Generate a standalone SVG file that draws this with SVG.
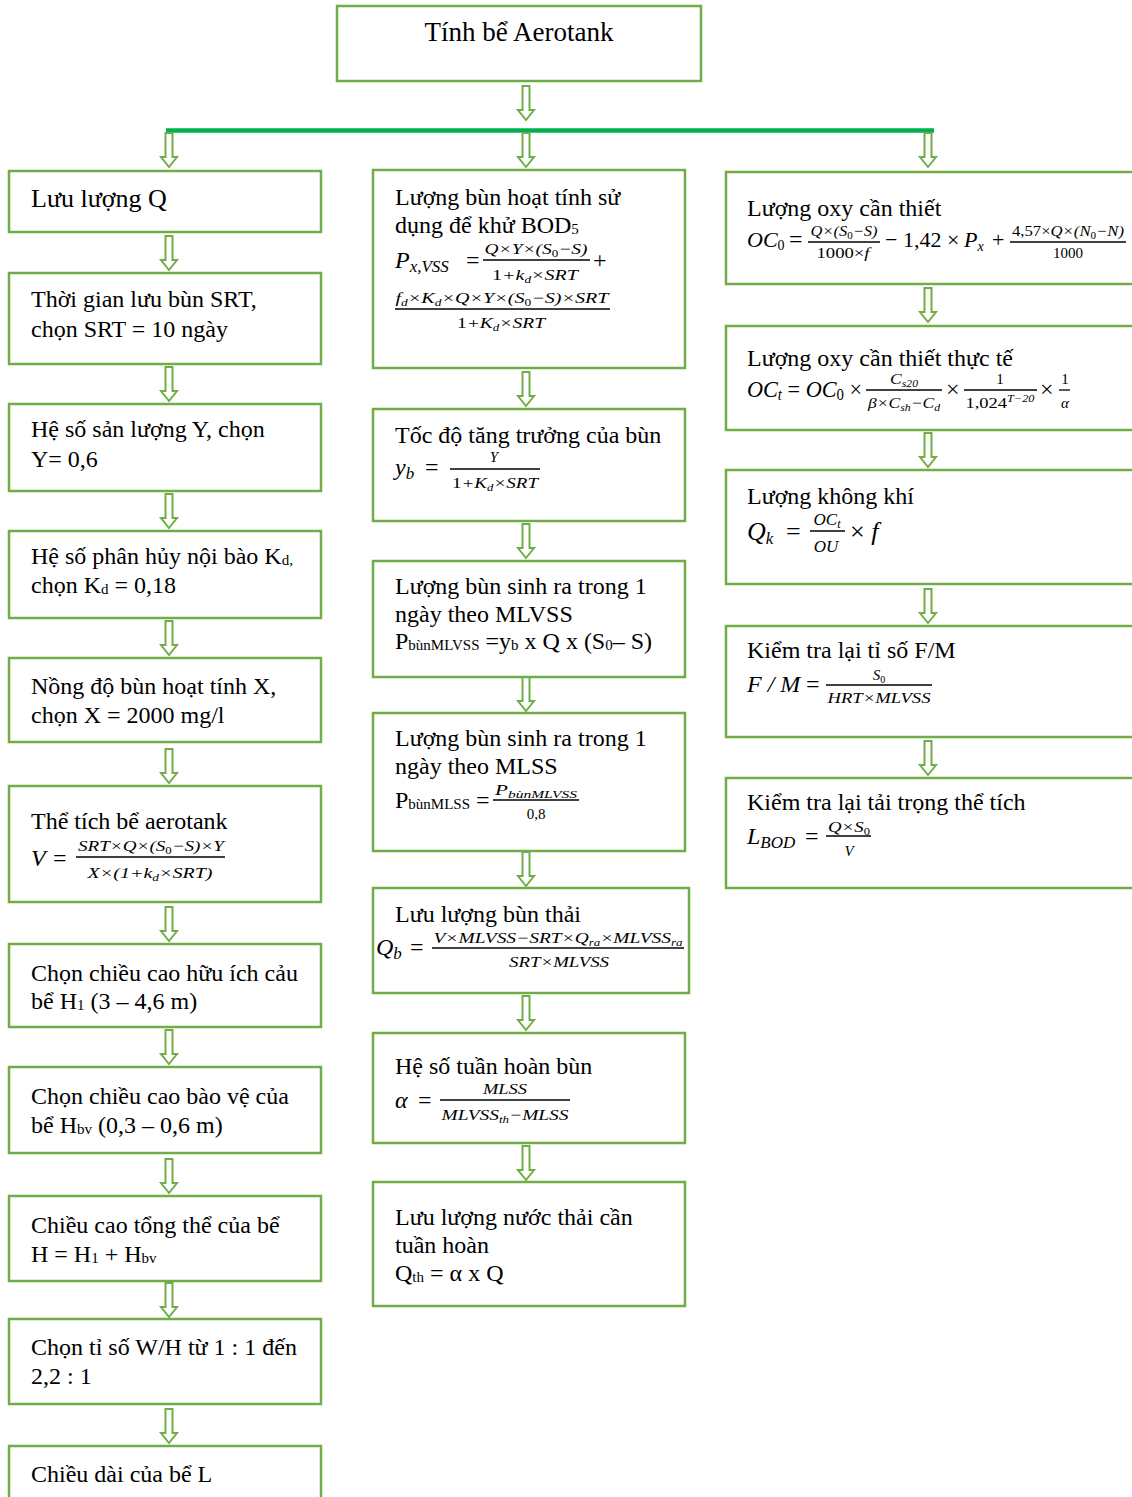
<svg xmlns="http://www.w3.org/2000/svg" xmlns:xlink="http://www.w3.org/1999/xlink" width="1132" height="1497" viewBox="0 0 1132 1497">
<style>
.box{fill:#fff;stroke:#70AD47;stroke-width:2.5}
.arr{fill:#fff;stroke:#70AD47;stroke-width:2}
.t{font-family:"Liberation Serif","Times New Roman",serif;font-size:24px;fill:#000}
.m{font-family:"Liberation Serif","Times New Roman",serif;font-style:italic;font-size:24px;fill:#000}
.f{font-family:"Liberation Serif","Times New Roman",serif;font-style:italic;font-size:15px;fill:#000}
.up{font-style:normal}
.fb{stroke:#000;stroke-width:1.3}
</style>
<defs>
<path id="arr" class="arr" d="M-3.5,0 H3.5 V24 H8 L0,34 L-8,24 H-3.5 Z"/>
</defs>
<rect width="1132" height="1497" fill="#fff"/>

<g id="connectors">
<use xlink:href="#arr" x="526" y="86"/>
<line x1="166" y1="130.5" x2="934" y2="130.5" stroke="#00B050" stroke-width="4.5"/>
<use xlink:href="#arr" x="169" y="133"/>
<use xlink:href="#arr" x="526" y="133"/>
<use xlink:href="#arr" x="928" y="133"/>
<use xlink:href="#arr" x="169" y="236"/>
<use xlink:href="#arr" x="169" y="367"/>
<use xlink:href="#arr" x="169" y="494"/>
<use xlink:href="#arr" x="169" y="621"/>
<use xlink:href="#arr" x="169" y="749"/>
<use xlink:href="#arr" x="169" y="907"/>
<use xlink:href="#arr" x="169" y="1030"/>
<use xlink:href="#arr" x="169" y="1159"/>
<use xlink:href="#arr" x="169" y="1283"/>
<use xlink:href="#arr" x="169" y="1409"/>
<use xlink:href="#arr" x="526" y="372"/>
<use xlink:href="#arr" x="526" y="524"/>
<use xlink:href="#arr" x="526" y="677"/>
<use xlink:href="#arr" x="526" y="852"/>
<use xlink:href="#arr" x="526" y="996"/>
<use xlink:href="#arr" x="526" y="1146"/>
<use xlink:href="#arr" x="928" y="288"/>
<use xlink:href="#arr" x="928" y="433"/>
<use xlink:href="#arr" x="928" y="589"/>
<use xlink:href="#arr" x="928" y="741"/>
</g>

<g id="top">
<rect class="box" x="337" y="6" width="364" height="75"/>
<text class="t" x="519" y="41" text-anchor="middle" style="font-size:27px">Tính bể Aerotank</text>
</g>

<!-- Left column -->
<g id="L1">
<rect class="box" x="9" y="171" width="312" height="61"/>
<text class="t" x="31" y="207" style="font-size:26px">Lưu lượng Q</text>
</g>
<g id="L2">
<rect class="box" x="9" y="273" width="312" height="91"/>
<text class="t" x="31" y="307">Thời gian lưu bùn SRT,</text>
<text class="t" x="31" y="337">chọn SRT = 10 ngày</text>
</g>
<g id="L3">
<rect class="box" x="9" y="404" width="312" height="87"/>
<text class="t" x="31" y="437">Hệ số sản lượng Y, chọn</text>
<text class="t" x="31" y="467">Y= 0,6</text>
</g>
<g id="L4">
<rect class="box" x="9" y="531" width="312" height="87"/>
<text class="t" x="31" y="564">Hệ số phân hủy nội bào K<tspan font-size="15" dy="1">d,</tspan></text>
<text class="t" x="31" y="593">chọn K<tspan font-size="15" dy="1">d</tspan><tspan dy="-1"> =  0,18</tspan></text>
</g>
<g id="L5">
<rect class="box" x="9" y="658" width="312" height="84"/>
<text class="t" x="31" y="694">Nồng độ bùn hoạt tính X,</text>
<text class="t" x="31" y="723">chọn X = 2000 mg/l</text>
</g>
<g id="L6">
<rect class="box" x="9" y="786" width="312" height="116"/>
<text class="t" x="31" y="829">Thể tích bể aerotank</text>
<text class="m" x="31" y="866">V</text>
<text class="t" x="53" y="866">=</text>
<line class="fb" x1="76" y1="857" x2="225" y2="857"/>
<text class="f" x="151" y="851" text-anchor="middle" textLength="146" lengthAdjust="spacingAndGlyphs">SRT×Q×(S<tspan font-size="10" dy="3" class="up">0</tspan><tspan dy="-3">−S)×Y</tspan></text>
<text class="f" x="150" y="878" text-anchor="middle" textLength="125" lengthAdjust="spacingAndGlyphs">X×(1+k<tspan font-size="10" dy="3">d</tspan><tspan dy="-3">×SRT)</tspan></text>
</g>
<g id="L7">
<rect class="box" x="9" y="944" width="312" height="83"/>
<text class="t" x="31" y="981">Chọn chiều cao hữu ích cảu</text>
<text class="t" x="31" y="1009">bể H<tspan font-size="15" dy="1">1</tspan><tspan dy="-1"> (3 – 4,6 m)</tspan></text>
</g>
<g id="L8">
<rect class="box" x="9" y="1067" width="312" height="86"/>
<text class="t" x="31" y="1104">Chọn chiều cao bào vệ của</text>
<text class="t" x="31" y="1133">bể H<tspan font-size="15" dy="1">bv</tspan><tspan dy="-1"> (0,3 – 0,6 m)</tspan></text>
</g>
<g id="L9">
<rect class="box" x="9" y="1196" width="312" height="85"/>
<text class="t" x="31" y="1233">Chiều cao tổng thể của bể</text>
<text class="t" x="31" y="1262">H = H<tspan font-size="15" dy="1">1</tspan><tspan dy="-1"> + H</tspan><tspan font-size="15" dy="1">bv</tspan></text>
</g>
<g id="L10">
<rect class="box" x="9" y="1319" width="312" height="85"/>
<text class="t" x="31" y="1355">Chọn tỉ số W/H từ 1 : 1 đến</text>
<text class="t" x="31" y="1384">2,2 : 1</text>
</g>
<g id="L11">
<rect class="box" x="9" y="1446" width="312" height="70"/>
<text class="t" x="31" y="1482">Chiều dài của bể L</text>
</g>

<!-- Middle column -->
<g id="M1">
<rect class="box" x="373" y="170" width="312" height="198"/>
<text class="t" x="395" y="205">Lượng bùn hoạt tính sử</text>
<text class="t" x="395" y="233">dụng để khử BOD<tspan font-size="15" dy="1">5</tspan></text>
<text class="m" x="395" y="268">P<tspan font-size="17" dy="4">x,VSS</tspan></text>
<text class="t" x="466" y="268">=</text>
<line class="fb" x1="483" y1="260" x2="590" y2="260"/>
<text class="f" x="536" y="254" text-anchor="middle" textLength="103" lengthAdjust="spacingAndGlyphs">Q×Y×(S<tspan font-size="10" dy="3" class="up">0</tspan><tspan dy="-3">−S)</tspan></text>
<text class="f" x="535" y="280" text-anchor="middle" textLength="86" lengthAdjust="spacingAndGlyphs"><tspan class="up">1</tspan>+k<tspan font-size="10" dy="3">d</tspan><tspan dy="-3">×SRT</tspan></text>
<text class="t" x="593" y="268">+</text>
<line class="fb" x1="395" y1="309" x2="610" y2="309"/>
<text class="f" x="502" y="303" text-anchor="middle" textLength="213" lengthAdjust="spacingAndGlyphs">f<tspan font-size="10" dy="3">d</tspan><tspan dy="-3">×K</tspan><tspan font-size="10" dy="3">d</tspan><tspan dy="-3">×Q×Y×(S</tspan><tspan font-size="10" dy="3" class="up">0</tspan><tspan dy="-3">−S)×SRT</tspan></text>
<text class="f" x="501" y="328" text-anchor="middle" textLength="88" lengthAdjust="spacingAndGlyphs"><tspan class="up">1</tspan>+K<tspan font-size="10" dy="3">d</tspan><tspan dy="-3">×SRT</tspan></text>
</g>
<g id="M2">
<rect class="box" x="373" y="409" width="312" height="112"/>
<text class="t" x="395" y="443">Tốc độ tăng trưởng của bùn</text>
<text class="m" x="395" y="475">y<tspan font-size="17" dy="4">b</tspan></text>
<text class="t" x="425" y="475">=</text>
<line class="fb" x1="450" y1="469" x2="540" y2="469"/>
<text class="f" x="494" y="462" text-anchor="middle">Y</text>
<text class="f" x="495" y="488" text-anchor="middle" textLength="86" lengthAdjust="spacingAndGlyphs"><tspan class="up">1</tspan>+K<tspan font-size="10" dy="3">d</tspan><tspan dy="-3">×SRT</tspan></text>
</g>
<g id="M3">
<rect class="box" x="373" y="561" width="312" height="116"/>
<text class="t" x="395" y="594">Lượng bùn sinh ra trong 1</text>
<text class="t" x="395" y="622">ngày theo MLVSS</text>
<text class="t" x="395" y="649">P<tspan font-size="15" dy="1">bùnMLVSS</tspan><tspan dy="-1"> =y</tspan><tspan font-size="15" dy="1">b</tspan><tspan dy="-1"> x Q x (S</tspan><tspan font-size="15" dy="1">0</tspan><tspan dy="-1">– S)</tspan></text>
</g>
<g id="M4">
<rect class="box" x="373" y="713" width="312" height="138"/>
<text class="t" x="395" y="746">Lượng bùn sinh ra trong 1</text>
<text class="t" x="395" y="774">ngày theo MLSS</text>
<text class="t" x="395" y="808">P<tspan font-size="15" dy="1">bùnMLSS</tspan><tspan dy="-1"> =</tspan></text>
<line class="fb" x1="493" y1="800" x2="579" y2="800"/>
<text class="f" x="536" y="795" text-anchor="middle" textLength="82" lengthAdjust="spacingAndGlyphs">P<tspan font-size="11" dy="3">bùnMLVSS</tspan></text>
<text class="f up" x="536" y="819" text-anchor="middle">0,8</text>
</g>
<g id="M5">
<rect class="box" x="373" y="888" width="316" height="105"/>
<text class="t" x="395" y="922">Lưu lượng bùn thải</text>
<text class="m" x="376" y="955">Q<tspan font-size="17" dy="4">b</tspan></text>
<text class="t" x="410" y="955">=</text>
<line class="fb" x1="432" y1="948" x2="684" y2="948"/>
<text class="f" x="558" y="943" text-anchor="middle" textLength="249" lengthAdjust="spacingAndGlyphs">V×MLVSS−SRT×Q<tspan font-size="10" dy="3">ra</tspan><tspan dy="-3">×MLVSS</tspan><tspan font-size="10" dy="3">ra</tspan></text>
<text class="f" x="559" y="967" text-anchor="middle" textLength="100" lengthAdjust="spacingAndGlyphs">SRT×MLVSS</text>
</g>
<g id="M6">
<rect class="box" x="373" y="1033" width="312" height="110"/>
<text class="t" x="395" y="1074">Hệ số tuần hoàn bùn</text>
<text class="m" x="395" y="1108">α</text>
<text class="t" x="418" y="1108">=</text>
<line class="fb" x1="440" y1="1100" x2="570" y2="1100"/>
<text class="f" x="505" y="1094" text-anchor="middle" textLength="44" lengthAdjust="spacingAndGlyphs">MLSS</text>
<text class="f" x="505" y="1120" text-anchor="middle" textLength="127" lengthAdjust="spacingAndGlyphs">MLVSS<tspan font-size="10" dy="3">th</tspan><tspan dy="-3">−MLSS</tspan></text>
</g>
<g id="M7">
<rect class="box" x="373" y="1182" width="312" height="124"/>
<text class="t" x="395" y="1225">Lưu lượng nước thải cần</text>
<text class="t" x="395" y="1253">tuần hoàn</text>
<text class="t" x="395" y="1281">Q<tspan font-size="15" dy="1">th</tspan><tspan dy="-1"> = α x Q</tspan></text>
</g>

<!-- Right column -->
<g id="R1">
<rect class="box" x="726" y="172" width="420" height="112"/>
<text class="t" x="747" y="216">Lượng oxy cần thiết</text>
<text class="m" x="747" y="247" style="font-size:22px">OC<tspan font-size="14" dy="3" class="up">0</tspan></text>
<text class="t" x="789" y="247">=</text>
<line class="fb" x1="808" y1="242" x2="880" y2="242"/>
<text class="f" x="844" y="236" text-anchor="middle" textLength="67" lengthAdjust="spacingAndGlyphs">Q×(S<tspan font-size="10" dy="3" class="up">0</tspan><tspan dy="-3">−S)</tspan></text>
<text class="f" x="843" y="258" text-anchor="middle" textLength="53" lengthAdjust="spacingAndGlyphs"><tspan class="up">1000×</tspan>f</text>
<text class="t" x="885" y="247" style="font-size:22px">− 1,42 ×</text>
<text class="m" x="964" y="247" style="font-size:22px">P<tspan font-size="14" dy="4">x</tspan></text>
<text class="t" x="992" y="247" style="font-size:22px">+</text>
<line class="fb" x1="1010" y1="242" x2="1126" y2="242"/>
<text class="f" x="1068" y="236" text-anchor="middle" textLength="112" lengthAdjust="spacingAndGlyphs"><tspan class="up">4,57×</tspan>Q×(N<tspan font-size="10" dy="3" class="up">0</tspan><tspan dy="-3">−N)</tspan></text>
<text class="f up" x="1068" y="258" text-anchor="middle">1000</text>
</g>
<g id="R2">
<rect class="box" x="726" y="326" width="420" height="104"/>
<text class="t" x="747" y="366">Lượng oxy cần thiết thực tế</text>
<text class="m" x="747" y="397" textLength="115" lengthAdjust="spacingAndGlyphs">OC<tspan font-size="16" dy="3">t</tspan><tspan dy="-3" class="up"> = </tspan><tspan>OC</tspan><tspan font-size="16" dy="3" class="up">0</tspan><tspan dy="-3" class="up"> ×</tspan></text>
<line class="fb" x1="866" y1="390" x2="942" y2="390"/>
<text class="f" x="904" y="384" text-anchor="middle" textLength="28" lengthAdjust="spacingAndGlyphs">C<tspan font-size="10" dy="3">s20</tspan></text>
<text class="f" x="904" y="408" text-anchor="middle" textLength="72" lengthAdjust="spacingAndGlyphs">β×C<tspan font-size="10" dy="3">sh</tspan><tspan dy="-3">−C</tspan><tspan font-size="10" dy="3">d</tspan></text>
<text class="t" x="946" y="397">×</text>
<line class="fb" x1="964" y1="390" x2="1037" y2="390"/>
<text class="f up" x="1000" y="384" text-anchor="middle">1</text>
<text class="f" x="1000" y="408" text-anchor="middle" textLength="69" lengthAdjust="spacingAndGlyphs"><tspan class="up">1,024</tspan><tspan font-size="10" dy="-6">T−20</tspan></text>
<text class="t" x="1040" y="397">×</text>
<line class="fb" x1="1059" y1="390" x2="1070" y2="390"/>
<text class="f up" x="1065" y="384" text-anchor="middle">1</text>
<text class="f" x="1065" y="408" text-anchor="middle">α</text>
</g>
<g id="R3">
<rect class="box" x="726" y="470" width="420" height="114"/>
<text class="t" x="747" y="504">Lượng không khí</text>
<text class="m" x="747" y="540" style="font-size:26px">Q<tspan font-size="17" dy="4">k</tspan></text>
<text class="t" x="786" y="540" style="font-size:26px">=</text>
<line class="fb" x1="810" y1="531" x2="845" y2="531"/>
<text class="f" x="827" y="525" text-anchor="middle" style="font-size:17px">OC<tspan font-size="12" dy="3">t</tspan></text>
<text class="f" x="826" y="552" text-anchor="middle" style="font-size:17px">OU</text>
<text class="m" x="850" y="540" style="font-size:26px"><tspan class="up">×</tspan> f</text>
</g>
<g id="R4">
<rect class="box" x="726" y="626" width="420" height="111"/>
<text class="t" x="747" y="658">Kiểm tra lại tỉ số F/M</text>
<text class="m" x="747" y="692">F / M</text>
<text class="t" x="806" y="692">=</text>
<line class="fb" x1="826" y1="685" x2="932" y2="685"/>
<text class="f" x="879" y="680" text-anchor="middle">S<tspan font-size="10" dy="3" class="up">0</tspan></text>
<text class="f" x="879" y="703" text-anchor="middle" textLength="103" lengthAdjust="spacingAndGlyphs">HRT×MLVSS</text>
</g>
<g id="R5">
<rect class="box" x="726" y="778" width="420" height="110"/>
<text class="t" x="747" y="810">Kiểm tra lại tải trọng thể tích</text>
<text class="m" x="747" y="844">L<tspan font-size="17" dy="4">BOD</tspan></text>
<text class="t" x="805" y="844">=</text>
<line class="fb" x1="826" y1="836" x2="871" y2="836"/>
<text class="f" x="849" y="832" text-anchor="middle" textLength="42" lengthAdjust="spacingAndGlyphs">Q×S<tspan font-size="10" dy="3" class="up">0</tspan></text>
<text class="f" x="849" y="856" text-anchor="middle">V</text>
</g>
</svg>
